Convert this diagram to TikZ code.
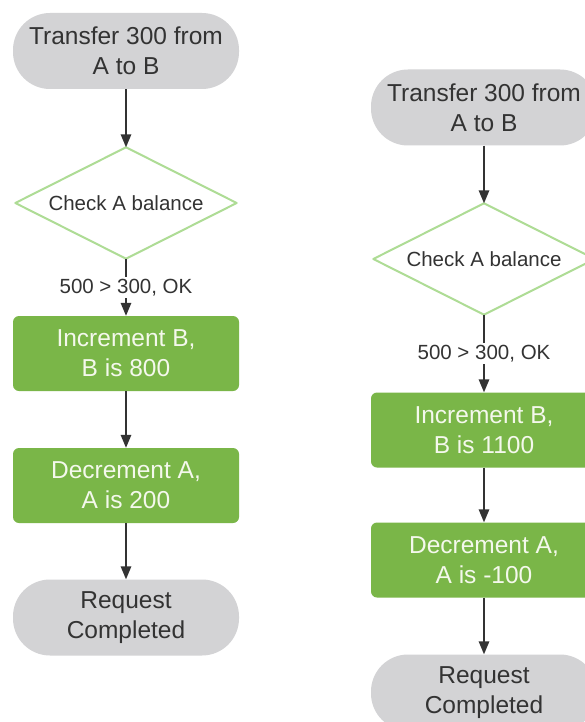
\documentclass[tikz,border=0pt]{standalone}
\usepackage{fontspec}
\setmainfont{Liberation Sans}
\usetikzlibrary{arrows.meta}
\definecolor{termgray}{HTML}{D3D3D5}
\definecolor{boxgreen}{HTML}{7AB648}
\definecolor{diagreen}{HTML}{AEDC95}
\definecolor{txtdark}{HTML}{333333}
\definecolor{txtlight}{HTML}{F4F8EC}
\tikzset{
  term/.style={rectangle, rounded corners=37pt, fill=termgray, draw=none,
    minimum width=226pt, minimum height=76pt, align=center, text=txtdark,
    font=\fontsize{24.5}{30}\selectfont},
  gbox/.style={rectangle, rounded corners=6pt, fill=boxgreen, draw=none,
    minimum width=226pt, minimum height=75pt, align=center, text=txtlight,
    font=\fontsize{24.5}{30}\selectfont},
  dholder/.style={rectangle, draw=none, minimum width=221pt, minimum height=111pt,
    inner sep=0pt, text=txtdark, font=\fontsize{20.5}{24}\selectfont},
  dshape/.style={draw=diagreen, line width=2pt, fill=white, line join=round},
  conn/.style={draw=txtdark, line width=1.5pt, -{Triangle[length=13pt,width=10.5pt]}},
  cond/.style={fill=white, inner sep=2pt, text=txtdark, font=\fontsize{20.5}{24}\selectfont}
}
\begin{document}
\begin{tikzpicture}[x=1pt,y=-1pt]
\useasboundingbox (0,0) rectangle (585,722);
\clip (0,0) rectangle (585,722);
\fill[white] (0,0) rectangle (585,722);
% left column
\node[term] (t1) at (126,51) {Transfer 300 from\\A to B};
\node[dholder] (d1) at (126,203) {};
\draw[dshape] (d1.north) -- (d1.east) -- (d1.south) -- (d1.west) -- cycle;
\node[dholder] at (d1.center) {Check A balance};
\node[gbox] (i1) at (126,353.5) {Increment B,\\B is 800};
\node[gbox] (e1) at (126,485.5) {Decrement A,\\A is 200};
\node[term] (r1) at (126,617.5) {Request\\Completed};
\draw[conn] (t1) -- (d1.north);
\draw[conn] (d1.south) -- node[cond] {500 > 300, OK} (i1.north);
\draw[conn] (i1) -- (e1);
\draw[conn] (e1) -- (r1);
% right column
\node[term] (t2) at (484,107.5) {Transfer 300 from\\A to B};
\node[dholder] (d2) at (484,259) {};
\draw[dshape] (d2.north) -- (d2.east) -- (d2.south) -- (d2.west) -- cycle;
\node[dholder] at (d2.center) {Check A balance};
\node[gbox] (i2) at (484,430) {Increment B,\\B is 1100};
\node[gbox] (e2) at (484,560) {Decrement A,\\A is -100};
\node[term] (r2) at (484,692.5) {Request\\Completed};
\draw[conn] (t2) -- (d2.north);
\draw[conn] (d2.south) -- node[cond] {500 > 300, OK} (i2.north);
\draw[conn] (i2) -- (e2);
\draw[conn] (e2) -- (r2);
\end{tikzpicture}
\end{document}
